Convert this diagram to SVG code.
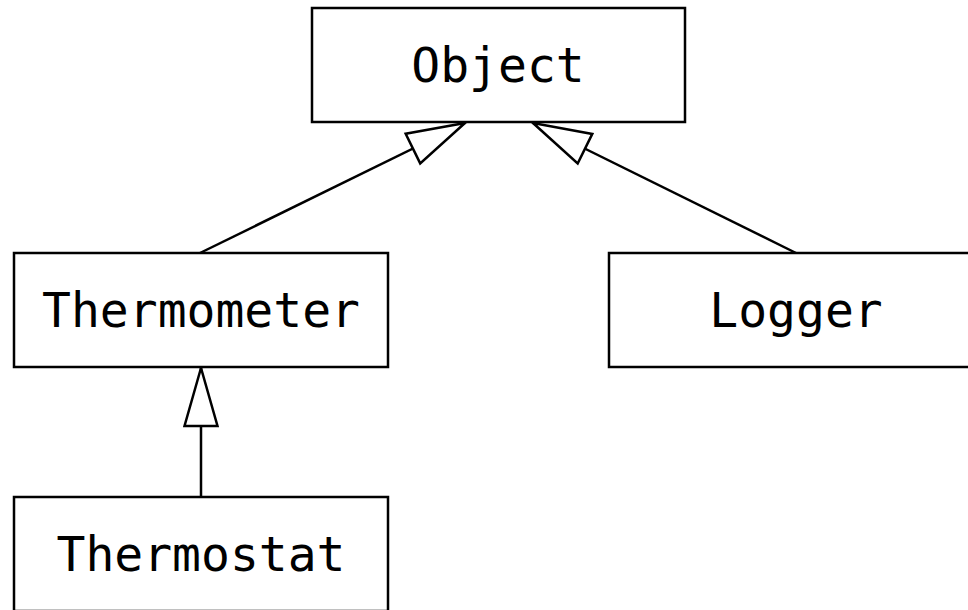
<svg xmlns="http://www.w3.org/2000/svg" width="968" height="610" viewBox="0 0 968 610">
<style>
.box{fill:#fff;stroke:#000;stroke-width:2.5}
.lbl{font-family:"DejaVu Sans Mono",monospace;font-size:48px;fill:#000;text-anchor:middle}
.edge{stroke:#000;stroke-width:2.5;fill:none;marker-end:url(#tri)}
</style>
<defs>
<marker id="tri" markerUnits="userSpaceOnUse" viewBox="-62 -20 66 40" markerWidth="66" markerHeight="40" refX="0" refY="0" orient="auto">
<path d="M0,0 L-58,-16.5 L-58,16.5 Z" fill="#fff" stroke="#000" stroke-width="2.5" stroke-linejoin="miter"/>
</marker>
</defs>
<rect width="968" height="610" fill="#fff"/>
<g id="connectors">
<path class="edge" d="M200,253 L465,123"/>
<path class="edge" d="M796,253 L533,123"/>
<path class="edge" d="M201,497 L201,368"/>
</g>
<g id="object">
<rect class="box" x="312" y="8" width="373" height="114"/>
<text class="lbl" x="498" y="82">Object</text>
</g>
<g id="thermometer">
<rect class="box" x="14" y="253" width="374" height="114"/>
<text class="lbl" x="201" y="327">Thermometer</text>
</g>
<g id="logger">
<rect class="box" x="609" y="253" width="374" height="114"/>
<text class="lbl" x="796" y="327">Logger</text>
</g>
<g id="thermostat">
<rect class="box" x="14" y="497" width="374" height="114"/>
<text class="lbl" x="201" y="571">Thermostat</text>
</g>
</svg>
